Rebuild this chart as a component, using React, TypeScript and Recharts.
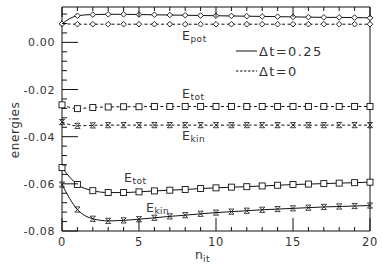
import React from "react"
import { LineChart, Line, XAxis, YAxis } from "recharts"

// iteration number n_it
const nIt = [0, 1, 2, 3, 4, 5, 6, 7, 8, 9, 10, 11, 12, 13, 14, 15, 16, 17, 18, 19, 20]

// Δt = 0.25 (solid)
const epotSolid = [0.0079, 0.0113, 0.0118, 0.0119, 0.0119, 0.0118, 0.0117, 0.0116, 0.0115, 0.0114, 0.0113, 0.0112, 0.0111, 0.011, 0.0109, 0.0108, 0.0107, 0.0106, 0.0106, 0.0105, 0.0104]
const etotSolid = [-0.0531, -0.0603, -0.0629, -0.0637, -0.0637, -0.0634, -0.063, -0.0627, -0.0624, -0.062, -0.0617, -0.0614, -0.0612, -0.0609, -0.0606, -0.0603, -0.0601, -0.0599, -0.0597, -0.0595, -0.0593]
const ekinSolid = [-0.0603, -0.0709, -0.0748, -0.0757, -0.0755, -0.075, -0.0744, -0.0738, -0.0733, -0.0727, -0.0722, -0.0718, -0.0714, -0.071, -0.0707, -0.0704, -0.0701, -0.0698, -0.0696, -0.0694, -0.0692]

// Δt = 0 (dashed)
const epotDashed = [0.0079, 0.0077, 0.0077, 0.0077, 0.0077, 0.0077, 0.0077, 0.0077, 0.0077, 0.0077, 0.0077, 0.0077, 0.0077, 0.0077, 0.0077, 0.0077, 0.0077, 0.0077, 0.0077, 0.0077, 0.0077]
const etotDashed = [-0.0265, -0.0281, -0.0276, -0.0274, -0.0273, -0.0273, -0.0272, -0.0272, -0.0272, -0.0272, -0.0272, -0.0272, -0.0272, -0.0272, -0.0272, -0.0272, -0.0272, -0.0272, -0.0272, -0.0272, -0.0272]
const ekinDashed = [-0.0338, -0.0354, -0.0352, -0.0351, -0.0351, -0.0351, -0.0351, -0.0351, -0.0351, -0.0351, -0.0351, -0.0351, -0.0351, -0.0351, -0.0351, -0.0351, -0.0351, -0.0351, -0.0351, -0.0351, -0.0351]

const xTicks = [0, 1, 2, 3, 4, 5, 6, 7, 8, 9, 10, 11, 12, 13, 14, 15, 16, 17, 18, 19, 20]
const xLabels = [0, 5, 10, 15, 20]
const yTicks = [-0.08, -0.076, -0.072, -0.068, -0.064, -0.06, -0.056, -0.052, -0.048, -0.044, -0.04, -0.036, -0.032, -0.028, -0.024, -0.02, -0.016, -0.012, -0.008, -0.004, 0, 0.004, 0.008, 0.012]
const yLabels = [0, -0.02, -0.04, -0.06, -0.08]
const yDomain: [number, number] = [-0.08, 0.015]

const data = nIt.map((n, i) => ({
  n,
  epotSolid: epotSolid[i],
  etotSolid: etotSolid[i],
  ekinSolid: ekinSolid[i],
  epotDashed: epotDashed[i],
  etotDashed: etotDashed[i],
  ekinDashed: ekinDashed[i],
}))

const INK = "#111"
const TEXT = "#333"
const FONT = "'DejaVu Sans', sans-serif"

const isLabelX = (v: number) => xLabels.includes(v)
const isLabelY = (v: number) => yLabels.some((l) => Math.abs(l - v) < 1e-9)
const fmtY = (v: number) => (Math.abs(v) < 1e-9 ? "0.00" : v.toFixed(2))

// ticks drawn inward, labels on bottom/left only
const BottomTick = (p: any) => {
  const v = p.payload.value
  const major = isLabelX(v)
  return (
    <g>
      <line x1={p.x} x2={p.x} y1={p.y} y2={p.y - (major ? 13 : 4)} stroke={INK} />
      {major && (
        <text x={p.x} y={p.y + 15} textAnchor="middle" fontSize={11.5} fontFamily={FONT} fill={TEXT} letterSpacing={0.6}>
          {v}
        </text>
      )}
    </g>
  )
}

const TopTick = (p: any) => {
  const major = isLabelX(p.payload.value)
  return <line x1={p.x} x2={p.x} y1={p.y} y2={p.y + (major ? 10 : 4)} stroke={INK} />
}

const LeftTick = (p: any) => {
  const v = p.payload.value
  const major = isLabelY(v)
  return (
    <g>
      <line x1={p.x} x2={p.x + (major ? 16 : 5)} y1={p.y} y2={p.y} stroke={INK} />
      {major && (
        <text x={p.x - 7} y={p.y + 4} textAnchor="end" fontSize={11} fontFamily={FONT} fill={TEXT} letterSpacing={0.6}>
          {fmtY(v)}
        </text>
      )}
    </g>
  )
}

const RightTick = (p: any) => {
  const major = isLabelY(p.payload.value)
  return <line x1={p.x} x2={p.x - (major ? 10 : 4)} y1={p.y} y2={p.y} stroke={INK} />
}

const Diamond = (p: any) => {
  const { cx, cy } = p
  const r = 2.8
  return (
    <polygon
      key={p.index}
      points={`${cx},${cy - r} ${cx + r},${cy} ${cx},${cy + r} ${cx - r},${cy}`}
      fill="#fff"
      stroke={INK}
      strokeWidth={0.9}
    />
  )
}

const Square = (p: any) => {
  const { cx, cy } = p
  return <rect key={p.index} x={cx - 3} y={cy - 3} width={6} height={6} fill="#fff" stroke={INK} strokeWidth={0.9} />
}

const Cross = (p: any) => {
  const { cx, cy } = p
  const r = 2.6
  return (
    <g key={p.index} stroke={INK} strokeWidth={0.8}>
      <line x1={cx - r} y1={cy - r} x2={cx + r} y2={cy + r} />
      <line x1={cx - r} y1={cy + r} x2={cx + r} y2={cy - r} />
      <line x1={cx - r} y1={cy - r} x2={cx + r} y2={cy - r} />
      <line x1={cx - r} y1={cy + r} x2={cx + r} y2={cy + r} />
    </g>
  )
}

const series = [
  { key: "epotSolid", dash: undefined, dot: Diamond },
  { key: "etotSolid", dash: undefined, dot: Square },
  { key: "ekinSolid", dash: undefined, dot: Cross },
  { key: "epotDashed", dash: "3 2.5", dot: Diamond },
  { key: "etotDashed", dash: "3 2.5", dot: Square },
  { key: "ekinDashed", dash: "3 2.5", dot: Cross },
]

const Label = ({ x, y, sub }: { x: number; y: number; sub: string }) => (
  <text x={x} y={y} fontFamily={FONT} fill={TEXT} fontSize={12.5} letterSpacing={0.5}>
    E
    <tspan fontSize={9} dy={2} letterSpacing={0.5}>
      {sub}
    </tspan>
  </text>
)

export default function App() {
  return (
    <div style={{ position: "relative", width: 382, height: 268 }}>
      <style>{"body{margin:0}"}</style>
      <LineChart width={382} height={268} data={data} margin={{ top: 0, right: 0, bottom: 0, left: 0 }}>
        <XAxis
          dataKey="n"
          type="number"
          domain={[0, 20]}
          ticks={xTicks}
          interval={0}
          height={37}
          tickSize={0}
          tickMargin={0}
          tickLine={false}
          axisLine={{ stroke: INK }}
          tick={BottomTick}
        />
        <XAxis
          xAxisId="top"
          orientation="top"
          dataKey="n"
          type="number"
          domain={[0, 20]}
          ticks={xTicks}
          interval={0}
          height={7}
          tickSize={0}
          tickMargin={0}
          tickLine={false}
          axisLine={{ stroke: INK }}
          tick={TopTick}
        />
        <YAxis
          type="number"
          domain={yDomain}
          ticks={yTicks}
          interval={0}
          width={62}
          tickSize={0}
          tickMargin={0}
          tickLine={false}
          axisLine={{ stroke: INK }}
          tick={LeftTick}
        />
        <YAxis
          yAxisId="right"
          orientation="right"
          type="number"
          domain={yDomain}
          ticks={yTicks}
          interval={0}
          width={12}
          tickSize={0}
          tickMargin={0}
          tickLine={false}
          axisLine={{ stroke: INK }}
          tick={RightTick}
        />
        {series.map((s) => (
          <Line
            key={s.key}
            type="monotone"
            dataKey={s.key}
            stroke={INK}
            strokeWidth={1}
            strokeDasharray={s.dash}
            dot={s.dot}
            activeDot={false}
            isAnimationActive={false}
          />
        ))}
      </LineChart>
      <svg width={382} height={268} style={{ position: "absolute", left: 0, top: 0, pointerEvents: "none" }}>
        <Label x={182} y={40} sub="pot" />
        <Label x={182} y={98} sub="tot" />
        <Label x={182} y={140} sub="kin" />
        <Label x={124} y={182} sub="tot" />
        <Label x={146} y={212} sub="kin" />
        <line x1={236} x2={257} y1={51} y2={51} stroke={INK} />
        <text x={259} y={56} fontFamily={FONT} fill={TEXT} fontSize={13} letterSpacing={1.4}>
          Δt=0.25
        </text>
        <line x1={236} x2={257} y1={71} y2={71} stroke={INK} strokeDasharray="2.5 1.5" />
        <text x={259} y={76} fontFamily={FONT} fill={TEXT} fontSize={13} letterSpacing={1.4}>
          Δt=0
        </text>
        <text
          transform="translate(19,130) rotate(-90)"
          textAnchor="middle"
          fontFamily={FONT}
          fill={TEXT}
          fontSize={12}
          letterSpacing={0.6}
        >
          energies
        </text>
        <text x={195} y={259} fontFamily={FONT} fill={TEXT} fontSize={12.5}>
          n
          <tspan fontSize={9} dy={3} letterSpacing={0.5}>
            it
          </tspan>
        </text>
      </svg>
    </div>
  )
}
